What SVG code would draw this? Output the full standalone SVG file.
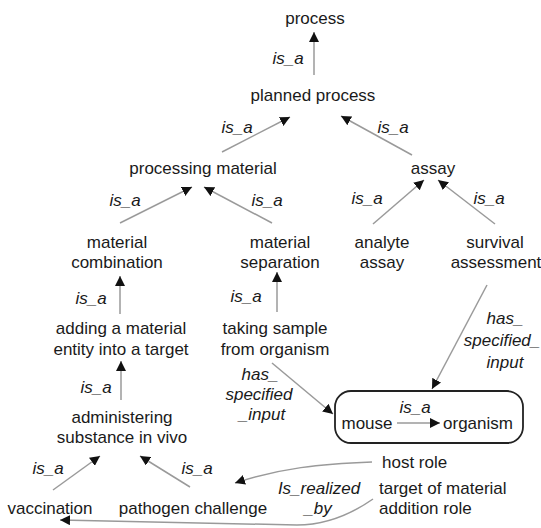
<svg xmlns="http://www.w3.org/2000/svg" width="541" height="528" viewBox="0 0 541 528">
<defs>
<marker id="ah" viewBox="0 0 10 10" refX="10" refY="5" markerWidth="10" markerHeight="10" markerUnits="userSpaceOnUse" orient="auto">
<path d="M0,0 L10,5 L0,10 z" fill="#111"/>
</marker>
</defs>
<style>
text{font-family:"Liberation Sans",Arial,sans-serif;font-size:17px;fill:#1a1a1a}
.c{text-anchor:middle}
.s{text-anchor:start}
.l{font-style:italic;text-anchor:middle}
.e{fill:none;stroke:#9a9a9a;stroke-width:1.5;marker-end:url(#ah)}
</style>
<rect width="541" height="528" fill="#fff"/>
<g id="connectors">
<line class="e" x1="314" y1="75" x2="314" y2="32"/>
<line class="e" x1="222" y1="152" x2="290" y2="117"/>
<line class="e" x1="412" y1="155" x2="341" y2="116"/>
<line class="e" x1="120" y1="223" x2="192" y2="187"/>
<line class="e" x1="272" y1="223" x2="204" y2="187"/>
<line class="e" x1="373" y1="224" x2="424" y2="180"/>
<line class="e" x1="495" y1="224" x2="438" y2="180"/>
<line class="e" x1="120" y1="314" x2="120" y2="276"/>
<line class="e" x1="277" y1="312" x2="277" y2="272"/>
<line class="e" x1="121" y1="400" x2="121" y2="361"/>
<line class="e" x1="53" y1="490" x2="100" y2="456"/>
<line class="e" x1="190" y1="487" x2="140" y2="456"/>
<line class="e" x1="272" y1="363" x2="333" y2="414"/>
<line class="e" x1="487" y1="285" x2="432" y2="389"/>
<path class="e" d="M372,462 C320,464 280,468 235,483"/>
<path class="e" d="M373,499 C350,515 325,525 297,525 L60,520"/>
<text class="l" x="288" y="64">is_a</text>
<text class="l" x="237" y="133">is_a</text>
<text class="l" x="393" y="133">is_a</text>
<text class="l" x="125" y="206">is_a</text>
<text class="l" x="267" y="206">is_a</text>
<text class="l" x="367" y="204">is_a</text>
<text class="l" x="489" y="204">is_a</text>
<text class="l" x="91" y="304">is_a</text>
<text class="l" x="246" y="302">is_a</text>
<text class="l" x="96" y="393">is_a</text>
<text class="l" x="48" y="474">is_a</text>
<text class="l" x="197" y="474">is_a</text>
<text class="l" x="505" y="324">has_</text>
<text class="l" x="502" y="346">specified_</text>
<text class="l" x="505" y="368">input</text>
<text class="l" x="260" y="380">has_</text>
<text class="l" x="259" y="400">specified</text>
<text class="l" x="262" y="420">_input</text>
<text class="l" x="319" y="494">Is_realized</text>
<text class="l" x="318" y="514">_by</text>
</g>
<g id="process"><text class="c" x="315" y="24">process</text></g>
<g id="planned_process"><text class="c" x="313" y="101">planned process</text></g>
<g id="processing_material"><text class="c" x="203" y="174">processing material</text></g>
<g id="assay"><text class="c" x="433" y="174">assay</text></g>
<g id="material_combination"><text class="c" x="117" y="248">material</text><text class="c" x="117" y="268">combination</text></g>
<g id="material_separation"><text class="c" x="280" y="248">material</text><text class="c" x="280" y="268">separation</text></g>
<g id="analyte_assay"><text class="c" x="382" y="248">analyte</text><text class="c" x="382" y="268">assay</text></g>
<g id="survival_assessment"><text class="c" x="495" y="248">survival</text><text class="c" x="496" y="268">assessment</text></g>
<g id="adding_material"><text class="c" x="121" y="334">adding a material</text><text class="c" x="121" y="355">entity into a target</text></g>
<g id="taking_sample"><text class="c" x="275" y="334">taking sample</text><text class="c" x="275" y="355">from organism</text></g>
<g id="administering"><text class="c" x="122" y="423">administering</text><text class="c" x="122" y="443">substance in vivo</text></g>
<g id="mouse_organism">
<rect x="335" y="391" width="188" height="52" rx="16" fill="none" stroke="#222" stroke-width="1.8"/>
<text class="c" x="367" y="429">mouse</text>
<text class="c" x="478" y="429">organism</text>
<line class="e" x1="397" y1="423" x2="440" y2="423"/>
<text class="l" x="415" y="413">is_a</text>
</g>
<g id="vaccination"><text class="c" x="50" y="514">vaccination</text></g>
<g id="pathogen_challenge"><text class="c" x="193" y="514">pathogen challenge</text></g>
<g id="host_role"><text class="s" x="382" y="468">host role</text></g>
<g id="target_role"><text class="s" x="379" y="494">target of material</text><text class="s" x="379" y="514">addition role</text></g>
</svg>
